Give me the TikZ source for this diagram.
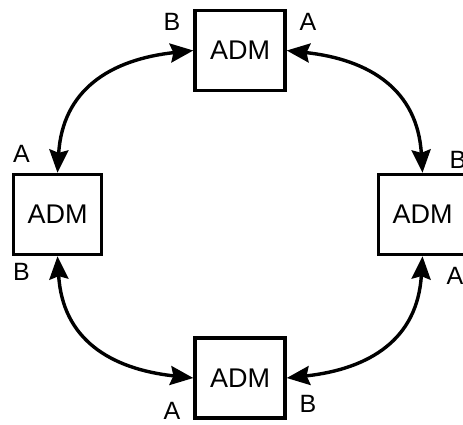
\documentclass[tikz,border=0pt]{standalone}
\usepackage{fontspec}
\setmainfont{Liberation Sans}
\usetikzlibrary{arrows.meta}
\begin{document}
\begin{tikzpicture}[x=1pt,y=-1pt,
  adm/.style={draw,line width=3.4pt,inner sep=0pt,minimum height=80pt,font=\fontsize{27}{30}\selectfont},
  lbl/.style={inner sep=0pt,font=\fontsize{25}{28}\selectfont},
  arr/.style={line width=3.4pt,{Stealth[length=23pt,width=19pt,inset=3pt]}-{Stealth[length=23pt,width=19pt,inset=3pt]}}]
\useasboundingbox (0,0) rectangle (463,424);
\clip (0,0) rectangle (463,424);
\node[adm,minimum width=90pt] (top) at (240,50.5) {ADM};
\node[adm,minimum width=90pt] (bot) at (240,378) {ADM};
\node[adm,minimum width=88.5pt] (left) at (57.5,214.5) {ADM};
\node[adm,minimum width=88.5pt] (right) at (422.5,214.5) {ADM};
\node[lbl] (tB) at (172,22) {B};
\node[lbl] (tA) at (308,22) {A};
\node[lbl] (lA) at (21.5,154) {A};
\node[lbl] (lB) at (21.5,272) {B};
\node[lbl] (rB) at (458,160) {B};
\node[lbl] (rA) at (455,276) {A};
\node[lbl] (bA) at (172,411) {A};
\node[lbl] (bB) at (308,404) {B};
\draw[arr] (top.west) .. controls +(-83,9) and +(5,-83) .. (left.north);
\draw[arr] (top.east) .. controls +(83,9) and +(-5,-83) .. (right.north);
\draw[arr] (left.south) .. controls +(5,83) and +(-83,-9) .. (bot.west);
\draw[arr] (right.south) .. controls +(-5,83) and +(83,-9) .. (bot.east);
\end{tikzpicture}
\end{document}
